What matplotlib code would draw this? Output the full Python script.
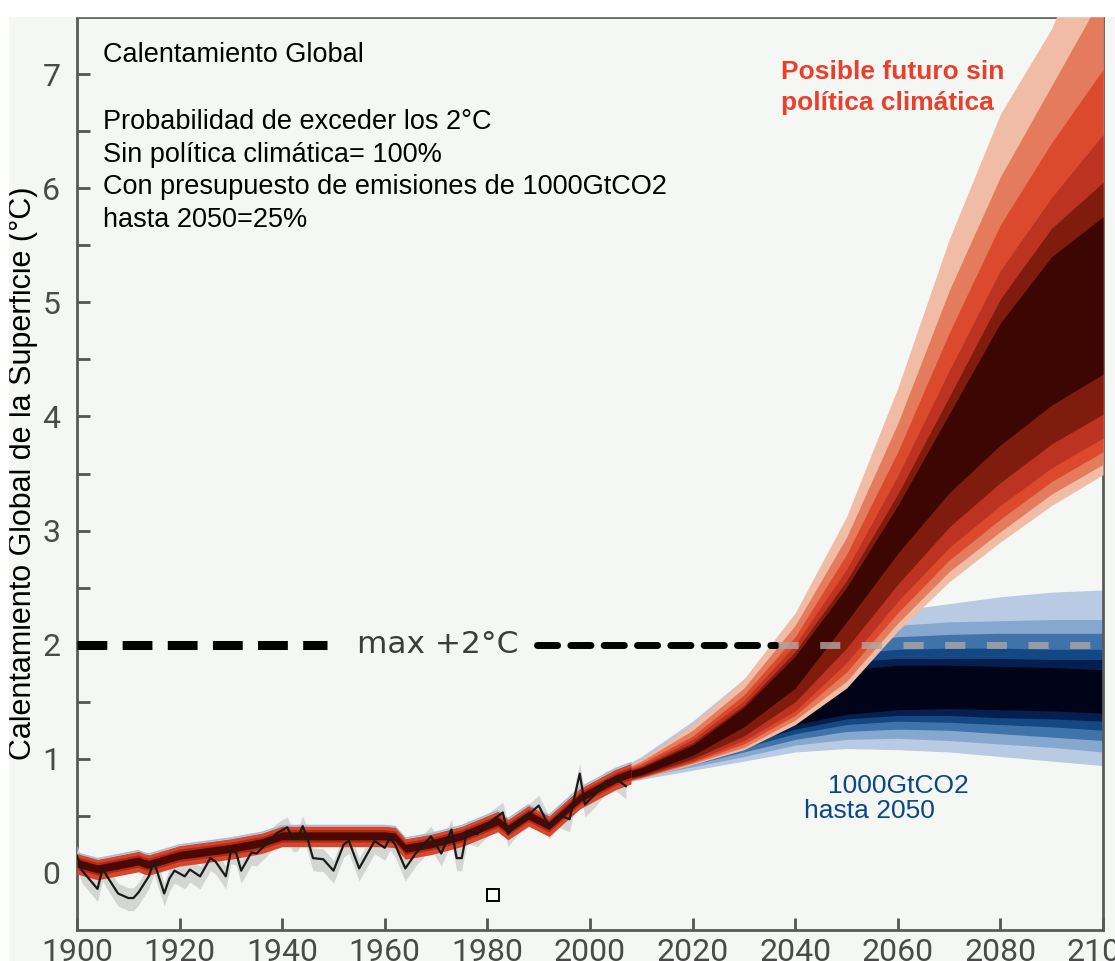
import matplotlib.pyplot as plt
import numpy as np

# observed annual anomalies (black line)
obs_years = [1900, 1901, 1904, 1905, 1906, 1908, 1910, 1911, 1912, 1914,
             1915, 1917, 1918, 1919, 1921, 1922, 1924, 1926, 1927, 1929,
             1930, 1931, 1932, 1934, 1935, 1937, 1939, 1941, 1942, 1943,
             1944, 1945, 1946, 1948, 1950, 1952, 1953, 1955, 1958, 1960,
             1961, 1962, 1964, 1966, 1969, 1971, 1973, 1974, 1975, 1976,
             1978, 1980, 1983, 1984, 1986, 1988, 1990, 1992, 1994, 1996,
             1998, 1999, 2001, 2003, 2005, 2007]
obs_temp = [0.15, 0.02, -0.14, 0.04, -0.04, -0.18, -0.22, -0.22, -0.17, -0.03,
            0.10, -0.18, -0.05, 0.02, -0.03, 0.03, -0.03, 0.13, 0.10, -0.03,
            0.19, 0.18, 0.02, 0.18, 0.17, 0.26, 0.35, 0.40, 0.30, 0.30,
            0.41, 0.29, 0.13, 0.12, 0.02, 0.25, 0.28, 0.04, 0.28, 0.22,
            0.31, 0.25, 0.04, 0.17, 0.32, 0.17, 0.38, 0.13, 0.13, 0.37,
            0.34, 0.43, 0.53, 0.34, 0.45, 0.51, 0.59, 0.41, 0.51, 0.47,
            0.87, 0.60, 0.69, 0.80, 0.83, 0.76]

# simulated historical warming (red band)
hist_years = [1900, 1904, 1912, 1913, 1914, 1920, 1930, 1936, 1940, 1950, 1960,
              1962, 1964, 1969, 1975, 1982, 1984, 1988, 1992, 1998, 2005, 2008]
hist_temp = [0.08, 0.03, 0.10, 0.08, 0.07, 0.15, 0.21, 0.26, 0.32, 0.32, 0.32,
             0.31, 0.21, 0.25, 0.32, 0.45, 0.38, 0.50, 0.41, 0.65, 0.82, 0.87]

# projections, probability bands from outer to inner
proj_years = [2005, 2010, 2020, 2030, 2040, 2050, 2060, 2070, 2080, 2090, 2100]

red_upper = [
    [0.89, 1.00, 1.30, 1.70, 2.28, 3.12, 4.25, 5.55, 6.65, 7.40, 8.50],
    [0.88, 0.98, 1.25, 1.62, 2.17, 2.94, 3.94, 5.10, 6.10, 6.90, 7.70],
    [0.87, 0.96, 1.20, 1.56, 2.07, 2.79, 3.69, 4.73, 5.68, 6.40, 7.04],
    [0.87, 0.94, 1.17, 1.51, 2.00, 2.66, 3.48, 4.40, 5.28, 5.92, 6.47],
    [0.86, 0.93, 1.14, 1.47, 1.94, 2.56, 3.32, 4.17, 5.03, 5.65, 6.05],
    [0.86, 0.92, 1.12, 1.45, 1.90, 2.50, 3.22, 4.02, 4.82, 5.40, 5.75],
]
red_lower = [
    [0.77, 0.83, 0.95, 1.08, 1.30, 1.62, 2.12, 2.55, 2.90, 3.22, 3.49],
    [0.77, 0.83, 0.96, 1.10, 1.34, 1.68, 2.19, 2.64, 2.99, 3.32, 3.58],
    [0.78, 0.84, 0.97, 1.13, 1.38, 1.76, 2.28, 2.74, 3.10, 3.43, 3.69],
    [0.79, 0.84, 0.98, 1.16, 1.42, 1.84, 2.38, 2.85, 3.22, 3.55, 3.81],
    [0.79, 0.85, 1.00, 1.20, 1.50, 1.97, 2.53, 3.03, 3.42, 3.76, 4.02],
    [0.81, 0.86, 1.03, 1.28, 1.62, 2.20, 2.80, 3.33, 3.75, 4.10, 4.37],
]
red_colors = ['#f1bca5', '#e47b5d', '#dc4a2e', '#bd3322', '#7f1c0d', '#3c0702']

blue_upper = [
    [0.90, 1.02, 1.33, 1.70, 2.00, 2.20, 2.30, 2.36, 2.42, 2.46, 2.48],
    [0.89, 1.00, 1.30, 1.65, 1.93, 2.10, 2.17, 2.20, 2.21, 2.22, 2.22],
    [0.88, 0.99, 1.27, 1.60, 1.87, 2.02, 2.07, 2.09, 2.10, 2.10, 2.10],
    [0.87, 0.97, 1.24, 1.55, 1.80, 1.92, 1.96, 1.97, 1.97, 1.96, 1.96],
    [0.86, 0.95, 1.21, 1.50, 1.74, 1.85, 1.88, 1.88, 1.88, 1.87, 1.87],
    [0.85, 0.93, 1.18, 1.45, 1.68, 1.78, 1.82, 1.82, 1.81, 1.80, 1.78],
]
blue_lower = [
    [0.78, 0.82, 0.90, 0.98, 1.06, 1.09, 1.08, 1.06, 1.02, 0.98, 0.94],
    [0.79, 0.84, 0.93, 1.02, 1.12, 1.17, 1.18, 1.16, 1.13, 1.10, 1.06],
    [0.80, 0.85, 0.95, 1.06, 1.17, 1.24, 1.26, 1.25, 1.22, 1.19, 1.16],
    [0.81, 0.87, 0.98, 1.10, 1.22, 1.30, 1.33, 1.32, 1.30, 1.28, 1.25],
    [0.82, 0.88, 1.00, 1.13, 1.26, 1.35, 1.38, 1.38, 1.36, 1.35, 1.33],
    [0.83, 0.89, 1.02, 1.16, 1.30, 1.39, 1.43, 1.44, 1.43, 1.42, 1.40],
]
blue_colors = ['#b8cbe2', '#86a8cf', '#3f73aa', '#134884', '#05204e', '#010418']

info_lines = ['Probabilidad de exceder los 2°C',
              'Sin política climática= 100%',
              'Con presupuesto de emisiones de 1000GtCO2',
              'hasta 2050=25%']

bg = '#f5f7f5'
fig = plt.figure(figsize=(11.15, 9.61), dpi=100, facecolor=bg)
# white strips along the top and left border
fig.patches.append(plt.Rectangle((0, 1 - 16 / 961), 1, 16 / 961, transform=fig.transFigure,
                                 color='white', zorder=0))
fig.patches.append(plt.Rectangle((0, 0), 8 / 1115, 1, transform=fig.transFigure,
                                 color='white', zorder=0))
ax = fig.add_axes([77 / 1115, 31 / 961, 1026 / 1115, 913 / 961])
ax.set_facecolor(bg)

for lo, up, c in zip(blue_lower, blue_upper, blue_colors):
    ax.fill_between(proj_years, lo, up, color=c, lw=0, zorder=2)
for lo, up, c in zip(red_lower, red_upper, red_colors):
    ax.fill_between(proj_years, lo, up, color=c, lw=0, zorder=3)

# historical period
obs = np.array(obs_temp)
ax.fill_between(obs_years, obs - 0.11, obs + 0.09, color='#d4d6d4', lw=0, zorder=3)
hist = np.array(hist_temp)
ax.plot(hist_years, hist + 0.095, color='#9dbfe0', lw=1.2, zorder=4)
ax.fill_between(hist_years, hist - 0.09, hist + 0.09, color='#d8472c', lw=0, zorder=4)
ax.fill_between(hist_years, hist - 0.05, hist + 0.06, color='#b02a16', lw=0, zorder=4)
ax.fill_between(hist_years, hist - 0.03, hist + 0.04, color='#4a0a03', lw=0, zorder=4)
ax.plot(obs_years, obs_temp, color='#1a1a1a', lw=1.6, zorder=5)

# 2 degree limit
ax.plot([1900, 1948.7], [2, 2], color='black', lw=6.5, dashes=(3.3, 1.7),
        solid_capstyle='butt', dash_capstyle='butt', zorder=6)
ax.plot([1989.7, 2036.2], [2, 2], color='black', lw=5, dashes=(2.9, 1.9),
        dash_capstyle='round', zorder=6)
ax.plot([2036.6, 2100], [2, 2], color='#b0a6a2', lw=5, alpha=0.8, dashes=(2.9, 3.1),
        dash_capstyle='butt', zorder=6)
ax.text(1970.4, 2.0, 'max +2°C', fontsize=22.5, color='#3c3c3c',
        ha='center', va='center', zorder=7)

ax.plot([1981.1], [-0.19], marker='s', ms=8, mfc='white', mec='black', mew=1.4, zorder=7)

txt = dict(family=['Liberation Sans', 'DejaVu Sans'], zorder=8)
ax.text(1905.1, 7.17, 'Calentamiento Global', fontsize=19.5, color='black',
        va='center', **txt)
for i, line in enumerate(info_lines):
    ax.text(1905.1, 6.58 - i * 0.285, line, fontsize=19.5, color='black',
            va='center', **txt)
ax.text(2037.2, 7.02, 'Posible futuro sin', fontsize=19, color='#e8402a',
        weight='bold', va='center', **txt)
ax.text(2037.2, 6.75, 'política climática', fontsize=19, color='#e8402a',
        weight='bold', va='center', **txt)
ax.text(2046.4, 0.76, '1000GtCO2', fontsize=19, color='#0b4785', va='center', **txt)
ax.text(2041.7, 0.54, 'hasta 2050', fontsize=19, color='#0b4785', va='center', **txt)

ax.set_xlim(1900, 2100)
ax.set_ylim(-0.5, 7.5)
ax.set_xticks(range(1900, 2101, 20))
ax.set_yticks(range(0, 8))
ax.set_yticks(np.arange(0.5, 7.5, 1), minor=True)
ax.tick_params(which='both', direction='in', color='#555555', width=2, length=9,
               labelcolor='#4a4a4a', labelsize=23)
ax.tick_params(axis='y', pad=12)
ax.tick_params(axis='x', pad=6)
for lab in ax.get_xticklabels() + ax.get_yticklabels():
    lab.set_family(['Roboto', 'DejaVu Sans'])
for s in ax.spines.values():
    s.set_color('#5a5a5a')
    s.set_linewidth(2)
ax.set_ylabel('Calentamiento Global de la Superficie (°C)', fontsize=22,
              family=['Liberation Sans', 'DejaVu Sans'])
ax.yaxis.set_label_coords(-0.038, 0.5)

fig.savefig('out.png', dpi=100, facecolor=bg)
